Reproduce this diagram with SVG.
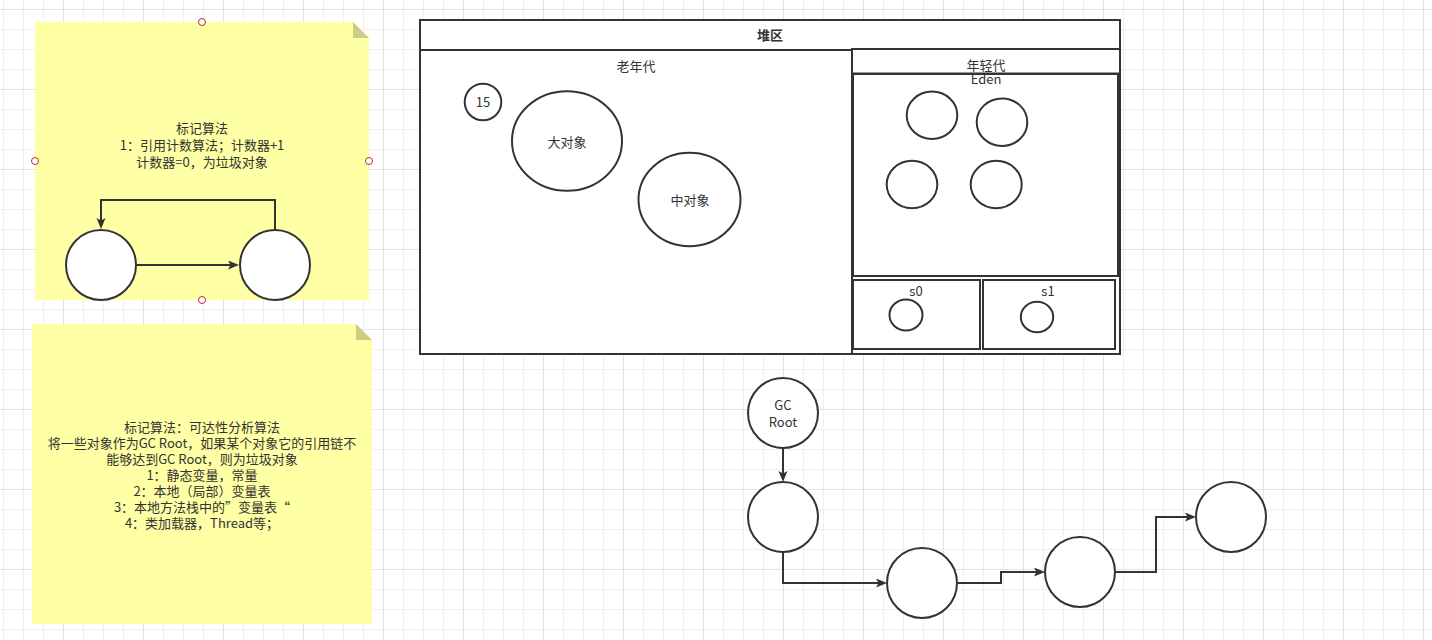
<svg xmlns="http://www.w3.org/2000/svg" width="1432" height="640" viewBox="0 0 1432 640">
<style>
text{font-family:"Noto Sans CJK SC","Noto Sans",sans-serif;font-size:13px;fill:#333;text-anchor:middle}
.b{font-weight:bold}
.box{fill:#fff;stroke:#333;stroke-width:2}
.obj{fill:#fff;stroke:#333;stroke-width:2}
.note{fill:#ffffa5}
.fold{fill:#cdcd84}
.hdl{fill:#fff;stroke:#a33;stroke-width:1}
.edge{fill:none;stroke:#333;stroke-width:2}
</style>
<defs>
<pattern id="gmin" width="20" height="20" patternUnits="userSpaceOnUse" x="3" y="9">
<path d="M0.5,0V20M0,0.5H20" stroke="#efefef" stroke-width="1" fill="none"/>
</pattern>
<pattern id="gmaj" width="80" height="80" patternUnits="userSpaceOnUse" x="63" y="9">
<path d="M0.5,0V80M0,0.5H80" stroke="#e2e2e2" stroke-width="1" fill="none"/>
</pattern>
<marker id="arr" markerUnits="userSpaceOnUse" markerWidth="12" markerHeight="10" refX="5" refY="4.5" orient="auto">
<path d="M0,0L11,4.5L0,9L2.5,4.5Z" fill="#333"/>
</marker>
</defs>
<rect width="1432" height="640" fill="#fff"/>
<rect width="1432" height="640" fill="url(#gmin)"/>
<rect width="1432" height="640" fill="url(#gmaj)"/>

<g id="note1">
<path class="note" d="M35,22H353L369,38V300H35Z"/>
<path class="fold" d="M353,22L369,38H353Z"/>
<text x="202" y="133">标记算法</text>
<text x="202" y="150">1：引用计数算法；计数器+1</text>
<text x="202" y="167">计数器=0，为垃圾对象</text>
</g>
<g id="note1-a"><circle class="obj" cx="101" cy="265" r="35"/></g>
<g id="note1-b"><circle class="obj" cx="275" cy="265" r="35"/></g>
<g id="note1-handles">
<circle class="hdl" cx="202" cy="22" r="3.5"/>
<circle class="hdl" cx="35" cy="161" r="3.5"/>
<circle class="hdl" cx="369" cy="161" r="3.5"/>
<circle class="hdl" cx="202" cy="300" r="3.5"/>
</g>

<g id="note2">
<path class="note" d="M32,324H356L372,340V624H32Z"/>
<path class="fold" d="M356,324L372,340H356Z"/>
<text x="202" y="432">标记算法：可达性分析算法</text>
<text x="202" y="448">将一些对象作为GC Root，如果某个对象它的引用链不</text>
<text x="202" y="464">能够达到GC Root，则为垃圾对象</text>
<text x="202" y="480">1：静态变量，常量</text>
<text x="202" y="496">2：本地（局部）变量表</text>
<text x="202" y="511.5">3：本地方法栈中的”变量表“</text>
<text x="202" y="527.5">4：类加载器，Thread等；</text>
</g>

<g id="heap">
<rect class="box" x="420" y="20" width="700" height="334"/>
<text class="b" x="770" y="40">堆区</text>
</g>
<g id="old-gen">
<rect class="box" x="420" y="50" width="432" height="304"/>
<text x="636" y="71">老年代</text>
</g>
<g id="young-gen">
<rect class="box" x="852" y="49" width="268" height="305"/>
<line x1="852" y1="73.5" x2="1120" y2="73.5" stroke="#333" stroke-width="2"/>
</g>
<g id="eden">
<rect class="box" x="853" y="74" width="265" height="202"/>
<text x="986" y="70">年轻代</text>
<text x="986" y="84">Eden</text>
</g>
<g id="s0">
<rect class="box" x="853" y="280" width="127" height="69"/>
<text x="916" y="296">s0</text>
</g>
<g id="s1">
<rect class="box" x="983" y="280" width="132" height="69"/>
<text x="1048" y="296">s1</text>
</g>
<g id="obj-15"><circle class="obj" cx="483" cy="102" r="18.3"/><text x="483" y="106.5">15</text></g>
<g id="obj-big"><ellipse class="obj" cx="567" cy="141" rx="55" ry="49.7"/><text x="567" y="147">大对象</text></g>
<g id="obj-mid"><ellipse class="obj" cx="689.5" cy="199.5" rx="51" ry="46.7"/><text x="690" y="204.5">中对象</text></g>
<g id="eden-1"><ellipse class="obj" cx="932" cy="115.3" rx="25.3" ry="23.7"/></g>
<g id="eden-2"><ellipse class="obj" cx="1002" cy="122.2" rx="25.3" ry="23.8"/></g>
<g id="eden-3"><ellipse class="obj" cx="912" cy="184.5" rx="25.3" ry="23.8"/></g>
<g id="eden-4"><ellipse class="obj" cx="996.2" cy="184.5" rx="25.5" ry="23.8"/></g>
<g id="s0-obj"><ellipse class="obj" cx="906" cy="315" rx="16.5" ry="15.5"/></g>
<g id="s1-obj"><ellipse class="obj" cx="1037" cy="317" rx="16.2" ry="15.3"/></g>

<g id="gc-root"><circle class="obj" cx="783" cy="413" r="35"/><text x="783" y="410">GC</text><text x="783" y="426.5">Root</text></g>
<g id="chain-1"><circle class="obj" cx="783" cy="517" r="35"/></g>
<g id="chain-2"><circle class="obj" cx="922" cy="583" r="35"/></g>
<g id="chain-3"><circle class="obj" cx="1080" cy="572" r="35"/></g>
<g id="chain-4"><circle class="obj" cx="1231" cy="517" r="35"/></g>

<g id="connectors">
<path class="edge" d="M136,265H233" marker-end="url(#arr)"/>
<path class="edge" d="M275,230V200H101V223" marker-end="url(#arr)"/>
<path class="edge" d="M783,448V476" marker-end="url(#arr)"/>
<path class="edge" d="M783,552V583H881" marker-end="url(#arr)"/>
<path class="edge" d="M957,583H1001V572H1039" marker-end="url(#arr)"/>
<path class="edge" d="M1115,572H1156V517H1190" marker-end="url(#arr)"/>
</g>
</svg>
